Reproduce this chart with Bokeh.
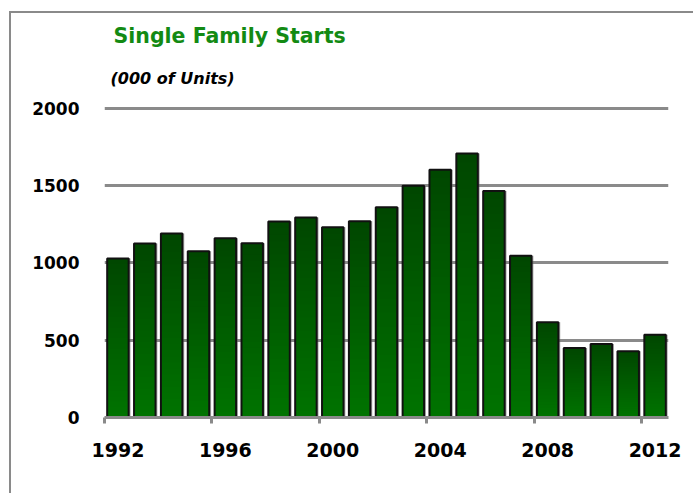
import numpy as np
from bokeh.plotting import figure
from bokeh.layouts import column
from bokeh.models import (ColumnDataSource, Range1d, FixedTicker, LinearAxis, Title,
                          CustomJSTickFormatter)
from bokeh.transform import dodge
from bokeh.embed import file_html
from bokeh.resources import INLINE

# ---- data ----
years = list(range(1992, 2013))
starts = [1029, 1126, 1190, 1076, 1160, 1128, 1268, 1294, 1232, 1270, 1360,
          1500, 1604, 1708, 1465, 1046, 617, 450, 476, 428, 535]
y_ticks = [0, 500, 1000, 1500, 2000]
x_label_years = [1992, 1996, 2000, 2004, 2008, 2012]
title_text = "Single Family Starts"
subtitle_text = "(000 of Units)"

FONT = "DejaVu Sans"

p = figure(width=682, height=480, output_backend="svg", toolbar_location=None,
           x_range=Range1d(years[0] - 0.5, years[-1] + 0.5),
           y_range=Range1d(0, 2045), x_axis_location=None)
p.min_border_left = 93
p.min_border_right = 25
p.min_border_top = 88
p.min_border_bottom = 76
p.outline_line_color = None
p.background_fill_color = "white"
p.border_fill_color = "white"

# titles
p.title = Title(text=title_text, align="left", offset=9,
                text_font=FONT, text_font_style="bold", text_font_size="20.5px",
                text_color="#138a13", standoff=10)
p.add_layout(Title(text=subtitle_text, align="left", offset=6,
                   text_font=FONT, text_font_style="bold italic",
                   text_font_size="16px", text_color="black", standoff=28),
             "above")

# grid
p.xgrid.visible = False
p.ygrid.ticker = FixedTicker(ticks=y_ticks)
p.ygrid.grid_line_color = "#8a8a8a"
p.ygrid.grid_line_width = 3

# y axis
p.yaxis.ticker = FixedTicker(ticks=y_ticks)
p.yaxis.axis_line_color = None
p.yaxis.major_tick_line_color = None
p.yaxis.minor_tick_line_color = None
p.yaxis.major_label_standoff = 19
p.yaxis.major_label_text_font = FONT
p.yaxis.major_label_text_font_style = "bold"
p.yaxis.major_label_text_font_size = "17px"
p.yaxis.major_label_text_color = "black"

# x axis 1: line + tick marks at category boundaries every 4 years
ax_ticks = LinearAxis(ticker=FixedTicker(ticks=[y - 0.5 for y in x_label_years]),
                      formatter=CustomJSTickFormatter(code="return ''"),
                      axis_line_color="#8a8a8a", axis_line_width=3,
                      major_tick_line_color="#8a8a8a", major_tick_line_width=3,
                      major_tick_in=0, major_tick_out=6,
                      minor_tick_line_color=None, major_label_standoff=0)
p.add_layout(ax_ticks, "below")

# x axis 2: year labels centred under bars
ax_labels = LinearAxis(ticker=FixedTicker(ticks=x_label_years),
                       axis_line_color=None, major_tick_line_color=None,
                       minor_tick_line_color=None,
                       major_tick_in=0, major_tick_out=0,
                       major_label_standoff=19,
                       major_label_text_font=FONT,
                       major_label_text_font_style="bold",
                       major_label_text_font_size="19px",
                       major_label_text_color="black")
p.add_layout(ax_labels, "below")

# shadow
src = ColumnDataSource(dict(x=years, top=starts))
p.vbar(x=dodge("x", 0.07, range=p.x_range), top="top", width=0.8, source=src,
       fill_color="#666666", fill_alpha=0.55, line_color=None)

# gradient bars built from slices of each bar
n = 30
top_c = np.array([0x00, 0x47, 0x00])
bot_c = np.array([0x00, 0x74, 0x00])
xs, bots, tops, cols = [], [], [], []
for yr, v in zip(years, starts):
    for i in range(n):
        t = (i + 0.5) / n
        c = (bot_c * (1 - t) + top_c * t).astype(int)
        xs.append(yr)
        bots.append(v * i / n)
        tops.append(min(v, v * (i + 1) / n + 9))
        cols.append("#%02x%02x%02x" % tuple(c))
p.vbar(x=xs, bottom=bots, top=tops, width=0.8, fill_color=cols, line_color=None)

# bar outlines
p.vbar(x="x", top="top", width=0.8, source=src, fill_alpha=0,
       line_color="#111111", line_width=2)

page = column(p, styles={"margin-left": "9px", "margin-top": "11px",
                         "border-top": "2px solid #8a8a8a",
                         "border-left": "2px solid #8a8a8a"})

open("out.html", "w").write(file_html(page, INLINE))
